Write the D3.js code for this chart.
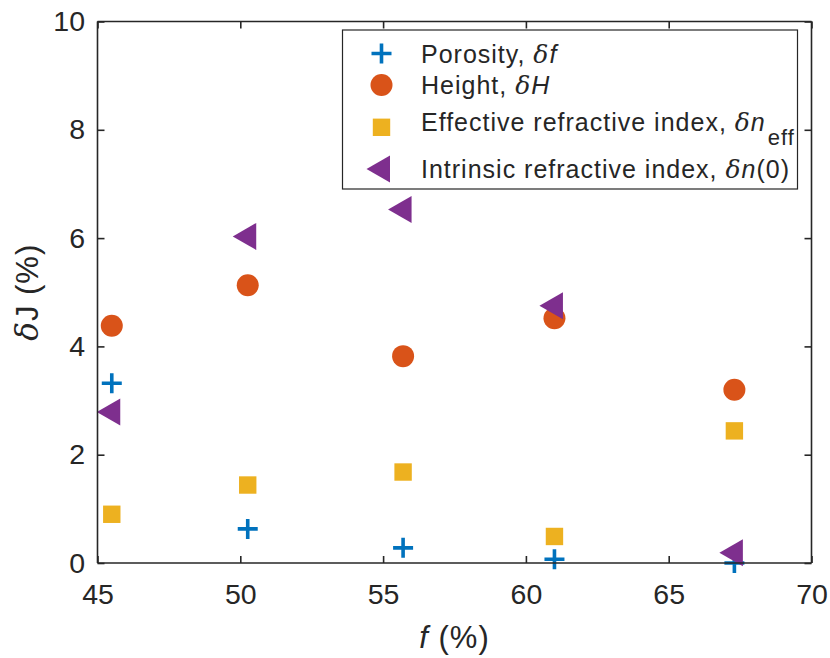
<!DOCTYPE html>
<html>
<head>
<meta charset="utf-8">
<script src="https://cdn.jsdelivr.net/npm/d3@7"></script>
<style>
  body { margin: 0; background: #fff; }
  text { font-family: "Liberation Sans", Arial, sans-serif; fill: #262626; }
</style>
</head>
<body>
<div id="chart"></div>
<script>
// porosity values (x) and the four sensitivity series (y, %)
const fValues = [45.5, 50.26, 55.7, 61.0, 67.3];
const porosity = [3.32, 0.63, 0.28, 0.07, 0.0];
const heightVals = [4.38, 5.13, 3.82, 4.52, 3.2];
const effIndex = [0.9, 1.44, 1.68, 0.49, 2.44];
const intrIndex = [2.79, 6.03, 6.53, 4.75, 0.19];
const xTicks = [45, 50, 55, 60, 65, 70];
const yTicks = [0, 2, 4, 6, 8, 10];

const W = 830, H = 658;
const margin = { left: 97.5, right: W - 811.5, top: 21.5, bottom: H - 563 };

const svg = d3.select("#chart").append("svg")
  .attr("width", W).attr("height", H);

const x = d3.scaleLinear().domain([45, 70]).range([margin.left, W - margin.right]);
const y = d3.scaleLinear().domain([0, 10]).range([H - margin.bottom, margin.top]);

const axisColor = "#262626";

// markers
const markers = {
  plus: (g, c) => g.append("path")
    .attr("d", "M-10,0H10M0,-10V10")
    .attr("stroke", c).attr("stroke-width", 3.6).attr("fill", "none"),
  circle: (g, c) => g.append("circle").attr("r", 11).attr("fill", c),
  square: (g, c) => g.append("rect")
    .attr("x", -8.7).attr("y", -8.7).attr("width", 17.4).attr("height", 17.4).attr("fill", c),
  triangle: (g, c) => g.append("path")
    .attr("d", "M-15,0L8.5,-13.5L8.5,13.5Z").attr("fill", c)
};

const series = [
  { name: "porosity", values: porosity, color: "#0072BD", marker: "plus" },
  { name: "height", values: heightVals, color: "#D95319", marker: "circle" },
  { name: "eff", values: effIndex, color: "#EDB120", marker: "square" },
  { name: "intr", values: intrIndex, color: "#7E2F8E", marker: "triangle" }
];

// draw order: squares, circles, plus, triangles on top
const drawOrder = ["eff", "height", "porosity", "intr"];
drawOrder.forEach(n => {
  const s = series.find(d => d.name === n);
  svg.append("g").selectAll("g")
    .data(fValues)
    .enter()
    .append("g")
    .attr("transform", (d, i) => `translate(${x(d)},${y(s.values[i])})`)
    .each(function () { markers[s.marker](d3.select(this), s.color); });
});

// axes (box with inward ticks)
const tickLen = 7;
const axBottom = svg.append("g").attr("transform", `translate(0,${y(0)})`)
  .call(d3.axisBottom(x).tickValues(xTicks).tickSize(-tickLen).tickPadding(21));
const axTop = svg.append("g").attr("transform", `translate(0,${y(10)})`)
  .call(d3.axisTop(x).tickValues(xTicks).tickSize(-tickLen).tickFormat(""));
const axLeft = svg.append("g").attr("transform", `translate(${x(45)},0)`)
  .call(d3.axisLeft(y).tickValues(yTicks).tickSize(-tickLen).tickPadding(12.5));
const axRight = svg.append("g").attr("transform", `translate(${x(70)},0)`)
  .call(d3.axisRight(y).tickValues(yTicks).tickSize(-tickLen).tickFormat(""));

[axBottom, axTop, axLeft, axRight].forEach(a => {
  a.select(".domain").attr("stroke", axisColor).attr("stroke-width", 1.6)
    .attr("d", a === axBottom || a === axTop
      ? `M${x(45)},0H${x(70)}` : `M0,${y(0)}V${y(10)}`);
  a.selectAll(".tick line").attr("stroke", axisColor).attr("stroke-width", 1.6);
  a.selectAll(".tick text").attr("font-size", 28.5)
    .attr("font-family", "Liberation Sans, Arial, sans-serif").attr("fill", axisColor);
});

// axis labels
svg.append("text")
  .attr("x", x(57.5)).attr("y", 648)
  .attr("text-anchor", "middle").attr("font-size", 31).attr("letter-spacing", 1)
  .html('<tspan font-style="italic">f</tspan> (%)');

svg.append("text")
  .attr("transform", `translate(38,${y(5)}) rotate(-90)`)
  .attr("text-anchor", "middle").attr("font-size", 31).attr("letter-spacing", 1)
  .html('<tspan font-family="DejaVu Serif" font-style="italic">δ</tspan>J (%)');

// legend
const legend = svg.append("g");
legend.append("rect")
  .attr("x", 342.5).attr("y", 30).attr("width", 455).attr("height", 159)
  .attr("fill", "#fff").attr("stroke", axisColor).attr("stroke-width", 1.2);

const legendLabels = [
  'Porosity, <tspan font-family="DejaVu Serif" font-style="italic">δ</tspan><tspan font-style="italic">f</tspan>',
  'Height, <tspan font-family="DejaVu Serif" font-style="italic">δ</tspan><tspan font-style="italic">H</tspan>',
  'Effective refractive index, <tspan font-family="DejaVu Serif" font-style="italic">δ</tspan><tspan font-style="italic">n</tspan><tspan dx="2" dy="14" font-size="22">eff</tspan>',
  'Intrinsic refractive index, <tspan font-family="DejaVu Serif" font-style="italic">δ</tspan><tspan font-style="italic">n</tspan>(0)'
];
const legendY = [53.5, 85, 127.3, 169];
const legendBase = [62.7, 94, 131, 177.7];

series.forEach((s, i) => {
  const g = legend.append("g").attr("transform", `translate(381.5,${legendY[i]})`);
  markers[s.marker](g, s.color);
  legend.append("text")
    .attr("x", 421).attr("y", legendBase[i])
    .attr("font-size", 25).attr("letter-spacing", 1)
    .html(legendLabels[i]);
});
</script>
</body>
</html>
